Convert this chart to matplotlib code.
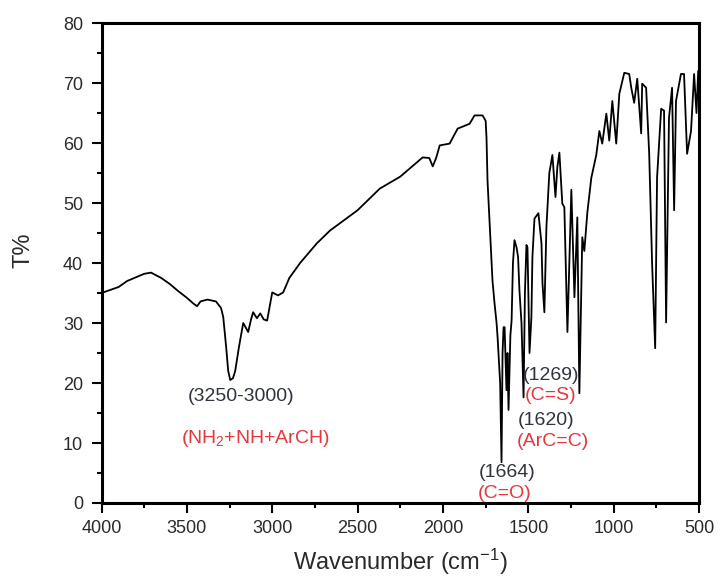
import numpy as np
import matplotlib
matplotlib.use("Agg")
import matplotlib.pyplot as plt
from matplotlib.ticker import MultipleLocator

plt.rcParams['font.family'] = ['Liberation Sans', 'DejaVu Sans']
plt.rcParams['mathtext.default'] = 'regular'

# FT-IR spectrum (wavenumber in cm-1, transmittance in %)
wavenumber = [4000, 3900, 3850, 3750, 3710, 3650, 3600, 3550, 3500, 3460,
              3440, 3420, 3380, 3330, 3300, 3287, 3270, 3258, 3246, 3230,
              3217, 3195, 3170, 3141, 3125, 3112, 3090, 3070, 3050, 3030,
              3000, 2966, 2936, 2900, 2837, 2738, 2662, 2500, 2370, 2250,
              2119, 2080, 2060, 2040, 2019, 1961, 1914, 1844, 1815, 1768,
              1750, 1745, 1739, 1722, 1710, 1698, 1686, 1680, 1665, 1657,
              1651, 1645, 1639, 1628, 1622, 1616, 1605, 1598, 1590, 1581,
              1569, 1560, 1552, 1540, 1528, 1520, 1511, 1505, 1493, 1482,
              1476, 1464, 1441, 1423, 1417, 1406, 1394, 1377, 1359, 1341,
              1330, 1318, 1301, 1289, 1271, 1248, 1230, 1213, 1201, 1184,
              1172, 1154, 1131, 1102, 1084, 1067, 1043, 1026, 1008, 985,
              967, 938, 909, 897, 880, 862, 839, 833, 810, 792,
              775, 757, 746, 722, 705, 693, 676, 658, 646, 635,
              606, 588, 570, 547, 529, 515, 505, 500]
transmittance = [35.0, 36.0, 37.0, 38.2, 38.4, 37.5, 36.5, 35.3, 34.2, 33.2,
                 32.8, 33.6, 33.9, 33.6, 32.5, 31.0, 26.0, 22.0, 20.5, 20.8,
                 22.0, 26.0, 30.0, 28.5, 30.5, 31.8, 30.8, 31.6, 30.6, 30.4,
                 35.1, 34.6, 35.1, 37.5, 40.0, 43.3, 45.4, 48.8, 52.4, 54.4,
                 57.6, 57.5, 56.1, 57.5, 59.6, 59.9, 62.4, 63.2, 64.6, 64.6,
                 63.7, 60.9, 53.7, 43.8, 37.1, 33.3, 30.0, 27.6, 20.0, 6.8,
                 25.0, 29.3, 29.3, 18.8, 25.0, 15.5, 28.0, 30.4, 40.0, 43.8,
                 42.6, 41.0, 35.4, 30.0, 17.6, 35.0, 43.0, 42.6, 25.0, 31.0,
                 41.0, 47.4, 48.3, 43.3, 36.6, 31.8, 46.0, 55.0, 58.0, 51.0,
                 56.0, 58.4, 49.9, 49.3, 28.5, 52.2, 34.3, 47.6, 18.3, 44.3,
                 42.0, 48.5, 54.2, 58.0, 62.0, 59.9, 64.9, 60.4, 67.0, 59.9,
                 68.2, 71.7, 71.5, 69.2, 66.7, 70.7, 61.6, 69.9, 69.2, 58.2,
                 39.9, 25.8, 54.2, 65.7, 65.4, 30.1, 64.2, 69.2, 48.8, 67.0,
                 71.5, 71.5, 58.2, 62.0, 71.5, 65.0, 72.0, 72.0]

# peak assignments: text, position, colour
labels = ["(3250-3000)", "(NH$_2$+NH+ArCH)",
          "(1664)", "(C=O)",
          "(1620)", "(ArC=C)",
          "(1269)", "(C=S)"]
label_x = [3183, 3101, 1625, 1636, 1396, 1355, 1367, 1367]
label_y = [17.8, 10.8, 5.0, 1.5, 13.8, 10.2, 21.3, 18.0]
label_col = ["#2e3440", "#e5383b"] * 4

fig = plt.figure(figsize=(7.2, 5.84), dpi=100)
ax = fig.add_axes([0.141, 0.1387, 0.8299, 0.8219])

ax.plot(wavenumber, transmittance, color="black", lw=1.3)

for t, x, y, c in zip(labels, label_x, label_y, label_col):
    ax.text(x, y, t, color=c, fontsize=14, ha="center", va="center")

ax.set_xlim(4000, 500)
ax.set_ylim(0, 80)
ax.xaxis.set_major_locator(MultipleLocator(500))
ax.xaxis.set_minor_locator(MultipleLocator(250))
ax.yaxis.set_major_locator(MultipleLocator(10))
ax.yaxis.set_minor_locator(MultipleLocator(5))
ax.tick_params(which="both", direction="out", width=1.5, colors="black",
               labelcolor="#2a2a2a", labelsize=13)
ax.tick_params(which="major", length=7.2)
ax.tick_params(which="minor", length=3.6)
ax.tick_params(axis="x", which="major", pad=5)
ax.tick_params(axis="y", which="major", pad=6)
for s in ax.spines.values():
    s.set_linewidth(2.2)

ax.set_xlabel("Wavenumber (cm$^{-1}$)", fontsize=17, color="#2a2a2a")
ax.set_ylabel("T%", fontsize=17, color="#2a2a2a")
ax.xaxis.label.set_va("baseline")
ax.xaxis.set_label_coords(0.4996, -0.1396)
ax.yaxis.label.set_va("center")
ax.yaxis.set_label_coords(-0.1314, 0.527)

fig.savefig("out.png", dpi=100)
